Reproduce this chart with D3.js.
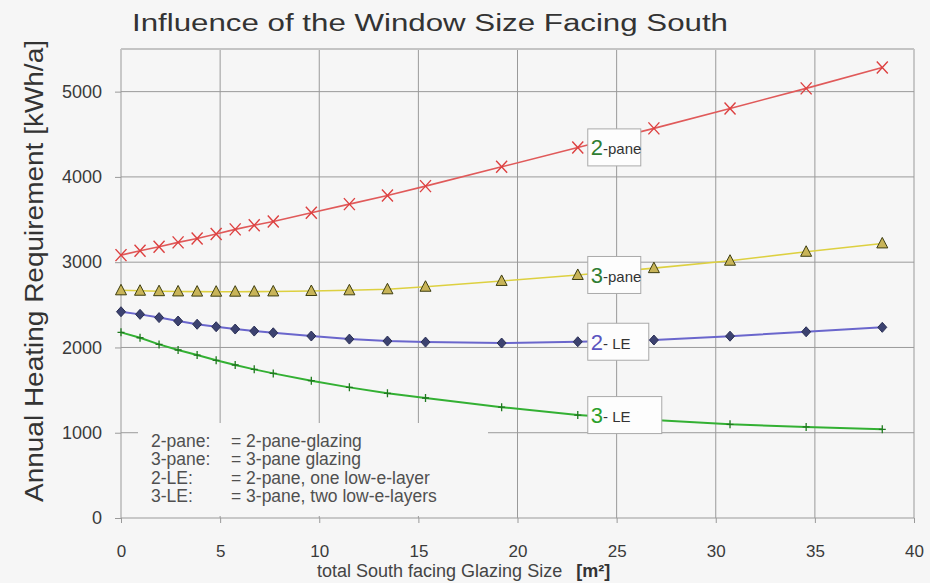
<!DOCTYPE html>
<html>
<head>
<meta charset="utf-8">
<script src="https://cdn.jsdelivr.net/npm/d3@7"></script>
<style>
  body { margin: 0; background: #f6f6f6; }
  #chart { width: 930px; height: 583px; }
  text { font-family: "Liberation Sans", Arial, sans-serif; }
</style>
</head>
<body>
<div id="chart"></div>
<script>
// glazing size [m2] for every point of the curves
var glazingSize = [0, 0.96, 1.92, 2.88, 3.84, 4.8, 5.76, 6.72, 7.68, 9.6, 11.52, 13.44, 15.36, 19.2, 23.04, 26.88, 30.72, 34.56, 38.4];

// annual heating requirement [kWh/a]
var twoPane   = [3083, 3134, 3182, 3232, 3278, 3330, 3385, 3433, 3476, 3579, 3681, 3783, 3892, 4118, 4346, 4569, 4803, 5038, 5284];
var threePane = [2670, 2665, 2660, 2657, 2655, 2654, 2654, 2655, 2657, 2662, 2670, 2682, 2712, 2780, 2850, 2930, 3017, 3122, 3220];
var twoLE     = [2419, 2388, 2350, 2310, 2272, 2243, 2216, 2192, 2172, 2134, 2098, 2075, 2063, 2052, 2067, 2087, 2132, 2184, 2236];
var threeLE   = [2177, 2114, 2036, 1970, 1911, 1849, 1794, 1743, 1696, 1610, 1532, 1462, 1407, 1300, 1207, 1150, 1098, 1068, 1040];

var xTicks = [0, 5, 10, 15, 20, 25, 30, 35, 40];
var yTicks = [0, 1000, 2000, 3000, 4000, 5000];

var legendKeys  = ["2-pane:", "3-pane:", "2-LE:", "3-LE:"];
var legendTexts = ["= 2-pane-glazing", "= 3-pane glazing", "= 2-pane, one low-e-layer", "= 3-pane, two low-e-layers"];

var width = 930;
var height = 583;
var margin = {top: 49, left: 121, right: 16, bottom: 65};

var svg = d3.select("#chart")
    .append("svg")
    .attr("width", width)
    .attr("height", height);

svg.append("rect")
    .attr("width", width)
    .attr("height", height)
    .attr("fill", "#f6f6f6");

var xScale = d3.scaleLinear()
    .domain([0, 40])
    .range([margin.left, width - margin.right]);

var yScale = d3.scaleLinear()
    .domain([0, 5500])
    .range([height - margin.bottom, margin.top]);

// grid
svg.append("g").selectAll("line")
    .data(xTicks)
    .enter()
    .append("line")
    .attr("x1", function(d) { return xScale(d); })
    .attr("x2", function(d) { return xScale(d); })
    .attr("y1", yScale(5500))
    .attr("y2", yScale(0))
    .attr("stroke", "#9a9a9a")
    .attr("stroke-width", 1);

svg.append("g").selectAll("line")
    .data(yTicks)
    .enter()
    .append("line")
    .attr("x1", xScale(0))
    .attr("x2", xScale(40))
    .attr("y1", function(d) { return yScale(d); })
    .attr("y2", function(d) { return yScale(d); })
    .attr("stroke", "#9a9a9a")
    .attr("stroke-width", 1);

// top frame is lighter
svg.append("line")
    .attr("x1", xScale(0)).attr("x2", xScale(40))
    .attr("y1", yScale(5500)).attr("y2", yScale(5500))
    .attr("stroke", "#c4c4c4")
    .attr("stroke-width", 2);

// axes
var yAxis = svg.append("g")
    .attr("transform", `translate(${margin.left},0)`)
    .call(d3.axisLeft(yScale).tickValues(yTicks).tickFormat(d3.format("d")).tickSize(6).tickPadding(13));

var xAxis = svg.append("g")
    .attr("transform", `translate(0,${height - margin.bottom})`)
    .call(d3.axisBottom(xScale).tickValues(xTicks).tickSize(5).tickPadding(22));

svg.selectAll(".domain").remove();
svg.selectAll(".tick line").attr("stroke", "#9a9a9a");
yAxis.selectAll("text").attr("font-size", 18).attr("fill", "#3a3a3a")
    .attr("font-family", "'Liberation Sans', Arial, sans-serif");
xAxis.selectAll("text").attr("font-size", 17).attr("fill", "#3a3a3a")
    .attr("font-family", "'Liberation Sans', Arial, sans-serif");

// legend box hides the grid under it
svg.append("rect")
    .attr("x", 138)
    .attr("y", 423)
    .attr("width", 350)
    .attr("height", 93)
    .attr("fill", "#f6f6f6");

var legend = svg.append("g").attr("fill", "#505050").attr("font-size", 17.5);
legendKeys.forEach(function(k, i) {
    legend.append("text")
        .attr("x", 151)
        .attr("y", 447 + i * 18.4)
        .text(k);
    legend.append("text")
        .attr("x", 231)
        .attr("y", 447 + i * 18.4)
        .text(legendTexts[i]);
});

// series
var series = [
    {name: "2-pane", values: twoPane,   line: "#e05a5a", width: 1.6, marker: "x"},
    {name: "3-pane", values: threePane, line: "#ddd040", width: 1.6, marker: "tri"},
    {name: "2-LE",   values: twoLE,     line: "#6a66cc", width: 2,   marker: "diamond"},
    {name: "3-LE",   values: threeLE,   line: "#33b033", width: 2,   marker: "plus"}
];

var line = d3.line()
    .x(function(d) { return xScale(d[0]); })
    .y(function(d) { return yScale(d[1]); });

function markerPath(type) {
    if (type == "x") return "M-5.5,-6L5.5,6M-5.5,6L5.5,-6";
    if (type == "tri") return "M0,-6L5.5,4.5L-5.5,4.5Z";
    if (type == "diamond") return "M0,-5L4.5,0L0,5L-4.5,0Z";
    return "M-3.5,0L3.5,0M0,-4L0,4";
}

series.forEach(function(s) {
    var pts = glazingSize.map(function(x, i) { return [x, s.values[i]]; });

    svg.append("path")
        .datum(pts)
        .attr("d", line)
        .attr("fill", "none")
        .attr("stroke", s.line)
        .attr("stroke-width", s.width);

    var m = svg.append("g").selectAll("path")
        .data(pts)
        .enter()
        .append("path")
        .attr("transform", function(d) { return `translate(${xScale(d[0])},${yScale(d[1])})`; })
        .attr("d", markerPath(s.marker));

    if (s.marker == "x") m.attr("fill", "none").attr("stroke", "#dd4040").attr("stroke-width", 1.4);
    if (s.marker == "tri") m.attr("fill", "#c8b458").attr("stroke", "#3d3d10").attr("stroke-width", 1);
    if (s.marker == "diamond") m.attr("fill", "#3c4270").attr("stroke", "#2a2f55").attr("stroke-width", 1);
    if (s.marker == "plus") m.attr("fill", "none").attr("stroke", "#1f7a1f").attr("stroke-width", 1.3);
});

// curve labels, attached to the point at 23 m2
var labelIndex = 14;
var labelBoxes = [
    {big: "2", bigColor: "#2f7d32", small: "-pane", w: 53},
    {big: "3", bigColor: "#2f7d32", small: "-pane", w: 53},
    {big: "2", bigColor: "#5a55c0", small: "- LE",  w: 61},
    {big: "3", bigColor: "#2aa02a", small: "- LE",  w: 74}
];

series.forEach(function(s, i) {
    var lb = labelBoxes[i];
    var bx = xScale(glazingSize[labelIndex]) + 10;
    var by = yScale(s.values[labelIndex]);
    var g = svg.append("g").attr("transform", `translate(${bx},${by})`);
    g.append("rect")
        .attr("x", 0)
        .attr("y", -18.5)
        .attr("width", lb.w)
        .attr("height", 37)
        .attr("fill", "#fdfdfd")
        .attr("stroke", "#aaaaaa")
        .attr("stroke-width", 1);
    var t = g.append("text")
        .attr("x", 3)
        .attr("y", 8);
    t.append("tspan")
        .attr("font-size", 22)
        .attr("fill", lb.bigColor)
        .text(lb.big);
    t.append("tspan")
        .attr("font-size", 15)
        .attr("fill", "#333")
        .attr("font-family", "'Liberation Sans Narrow', 'Liberation Sans', sans-serif")
        .attr("dy", -1)
        .text(lb.small);
});

// titles
svg.append("text")
    .attr("x", 132)
    .attr("y", 31)
    .attr("font-family", "'DejaVu Sans', Verdana, sans-serif")
    .attr("font-size", 23)
    .attr("fill", "#333")
    .attr("textLength", 596)
    .attr("lengthAdjust", "spacingAndGlyphs")
    .text("Influence of the Window Size Facing South");

svg.append("text")
    .attr("transform", "rotate(-90)")
    .attr("x", -502)
    .attr("y", 43)
    .attr("font-size", 25)
    .attr("fill", "#333")
    .attr("textLength", 462)
    .attr("lengthAdjust", "spacingAndGlyphs")
    .text("Annual Heating Requirement [kWh/a]");

var xTitle = svg.append("text")
    .attr("x", 317)
    .attr("y", 577)
    .attr("font-size", 18)
    .attr("fill", "#444");
xTitle.append("tspan").text("total South facing Glazing Size");
xTitle.append("tspan").attr("dx", 14).attr("font-weight", "bold").attr("fill", "#333").text("[m²]");
</script>
</body>
</html>
